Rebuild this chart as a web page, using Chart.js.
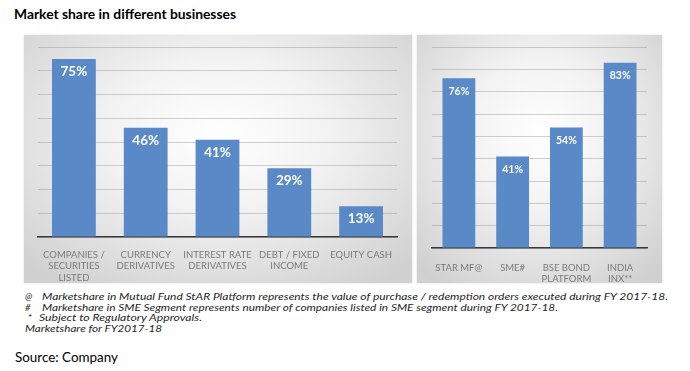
<!DOCTYPE html>
<html>
<head>
<meta charset="utf-8">
<script src="https://cdn.jsdelivr.net/npm/chart.js@4.4.0/dist/chart.umd.min.js"></script>
<style>
  body { margin: 0; width: 690px; height: 371px; background: #fff; position: relative; overflow: hidden; font-family: Lato, sans-serif; }
  .txt { position: absolute; white-space: nowrap; transform-origin: 0 50%; line-height: 12px; }
  .note { font-size: 9.5px; font-style: italic; color: #262626; }
  .panel { position: absolute; background: radial-gradient(ellipse 70% 75% at 50% 40%, #ffffff 0%, #f3f3f3 40%, #d0d0d0 100%); box-shadow: 0 0 2px #d8d8d8; }
  canvas { position: absolute; }
</style>
</head>
<body>
<div class="txt" id="title" style="left:14px;top:8px;font-size:13px;font-weight:bold;color:#000" data-w="222">Market share in different businesses</div>

<div class="panel" style="left:24px;top:35px;width:388px;height:248px"></div>
<div class="panel" style="left:417px;top:35px;width:245px;height:248px"></div>
<canvas id="leftChart" width="388" height="248" style="left:24px;top:35px;width:388px;height:248px"></canvas>
<canvas id="rightChart" width="245" height="248" style="left:417px;top:35px;width:245px;height:248px"></canvas>

<div class="txt note" style="left:25px;top:291px">@</div>
<div class="txt note" style="left:42px;top:291px" data-w="626">Marketshare in Mutual Fund StAR Platform represents the value of purchase / redemption orders executed during FY 2017-18.</div>
<div class="txt note" style="left:25px;top:302px">#</div>
<div class="txt note" style="left:42px;top:302px" data-w="516">Marketshare in SME Segment represents number of companies listed in SME segment during FY 2017-18.</div>
<div class="txt note" style="left:28px;top:312px">*</div>
<div class="txt note" style="left:39px;top:312px" data-w="163">Subject to Regulatory Approvals.</div>
<div class="txt note" style="left:25px;top:323px" data-w="137">Marketshare for FY2017-18</div>
<div class="txt" style="left:15px;top:345px;font-size:13.5px;line-height:24px;color:#000" data-w="103">Source: Company</div>

<script>
// Left panel: market share by business
const leftCategories = [['COMPANIES /', 'SECURITIES', 'LISTED'], ['CURRENCY', 'DERIVATIVES'], ['INTEREST RATE', 'DERIVATIVES'], ['DEBT / FIXED', 'INCOME'], 'EQUITY CASH'];
const leftShares = [75, 46, 41, 29, 13];
const leftMax = 80;

// Right panel: other platforms
const rightCategories = ['STAR MF@', 'SME#', ['BSE BOND', 'PLATFORM'], ['INDIA', 'INX**']];
const rightShares = [76, 41, 54, 83];
const rightMax = 90;

const barColor = '#5a89c8';

// white % labels inside the top of each bar
const barLabels = {
  id: 'barLabels',
  afterDatasetsDraw(chart, args, opts) {
    const ctx = chart.ctx;
    const values = chart.data.datasets[0].data;
    ctx.save();
    ctx.fillStyle = '#fff';
    ctx.font = 'bold ' + opts.size + 'px Lato';
    ctx.textAlign = 'center';
    ctx.textBaseline = 'middle';
    chart.getDatasetMeta(0).data.forEach((bar, i) => {
      ctx.fillText(values[i] + '%', bar.x, bar.y + opts.offset);
    });
    ctx.restore();
  }
};

function makeChart(id, labels, values, max, cfg) {
  const ctx = document.getElementById(id).getContext('2d');
  return new Chart(ctx, {
    type: 'bar',
    data: {
      labels: labels,
      datasets: [{
        data: values,
        backgroundColor: barColor,
        barPercentage: 0.61,
        categoryPercentage: 1
      }]
    },
    options: {
      responsive: false,
      animation: false,
      layout: { padding: { left: cfg.left, right: cfg.right, top: 12, bottom: 0 } },
      plugins: {
        legend: { display: false },
        tooltip: { enabled: false },
        barLabels: { size: cfg.labelSize, offset: cfg.labelOffset }
      },
      scales: {
        x: {
          grid: { display: false },
          border: { display: true, color: '#3a3a3a', width: 1.5 },
          ticks: {
            color: '#7a7a7a',
            font: { family: 'Lato', size: 9.5 },
            padding: cfg.tickPad,
            maxRotation: 0,
            autoSkip: false
          },
          afterFit(scale) { scale.height = cfg.xHeight; }
        },
        y: {
          min: 0,
          max: max,
          ticks: { display: false, stepSize: 10 },
          border: { display: false },
          grid: { color: 'rgba(140,140,140,0.4)', drawTicks: false },
          afterFit(scale) { scale.width = 0; }
        }
      }
    },
    plugins: [barLabels]
  });
}

makeChart('leftChart', leftCategories, leftShares, leftMax,
  { left: 14, right: 15, xHeight: 46, tickPad: 4, labelSize: 13.5, labelOffset: 13 });
makeChart('rightChart', rightCategories, rightShares, rightMax,
  { left: 15, right: 15, xHeight: 35, tickPad: 6, labelSize: 10.5, labelOffset: 13 });

// squeeze/stretch text lines to the widths seen in the picture
document.querySelectorAll('[data-w]').forEach(el => {
  const w = el.getBoundingClientRect().width;
  el.style.transform = 'scaleX(' + (parseFloat(el.dataset.w) / w) + ')';
});
</script>
</body>
</html>
